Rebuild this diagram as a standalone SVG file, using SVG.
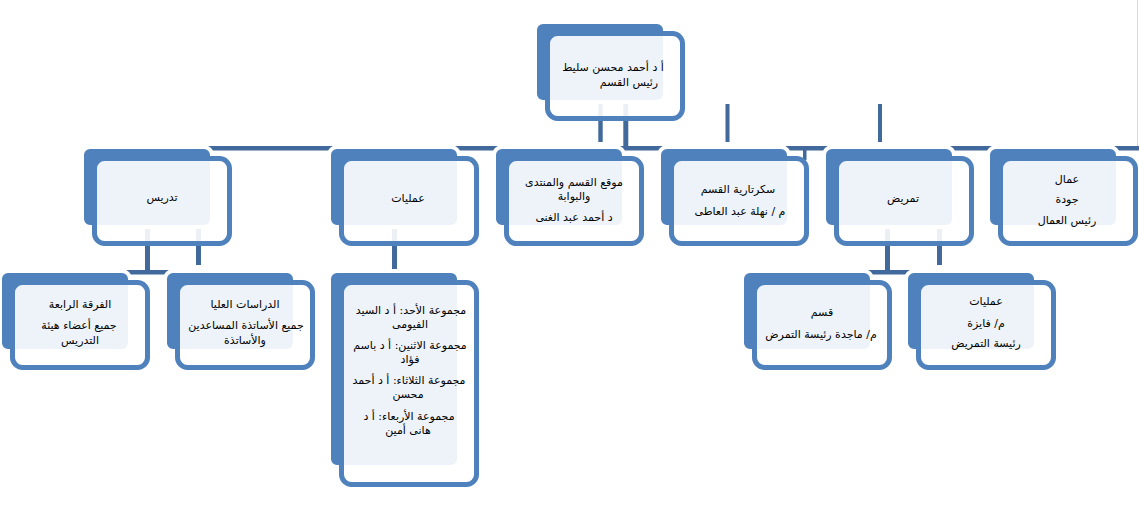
<svg xmlns="http://www.w3.org/2000/svg" width="1139" height="507" viewBox="0 0 1139 507">
<style>
.bk{fill:#4F81BD;stroke:#FFFFFF;stroke-width:4}
.fr{fill:#FFFFFF;fill-opacity:0.9;stroke:#4F81BD;stroke-width:5}
.cn{fill:#41699C}
.t{font-family:"DejaVu Sans","Noto Sans",sans-serif;font-size:11px;fill:#000000;text-anchor:middle;direction:rtl}
</style>
<rect width="1139" height="507" fill="#FFFFFF"/>
<line x1="1137.5" y1="0" x2="1137.5" y2="146" stroke="#D8D8D8" stroke-width="1"/>
<g id="connectors">
<rect class="cn" x="200" y="146" width="939" height="4.5"/>
<rect class="cn" x="598.3" y="95" width="4.4" height="47"/>
<rect class="cn" x="623.3" y="95" width="5" height="55"/>
<rect class="cn" x="725.5" y="104" width="4" height="38"/>
<rect class="cn" x="878" y="104" width="4" height="38"/>
<rect class="cn" x="803" y="148" width="3.5" height="12"/>
<rect class="cn" x="145" y="228" width="5" height="44"/>
<rect class="cn" x="196" y="228" width="5" height="37"/>
<rect class="cn" x="60" y="270" width="170" height="4.5"/>
<rect class="cn" x="392" y="228" width="5" height="43"/>
<rect class="cn" x="885" y="228" width="5" height="44"/>
<rect class="cn" x="937" y="228" width="5" height="37"/>
<rect class="cn" x="800" y="270" width="150" height="4.5"/>
</g>
<g id="node-head">
<rect class="bk" x="535" y="22" width="130" height="80" rx="8"/>
<rect class="fr" x="547.5" y="33.5" width="135" height="85" rx="10"/>
<text class="t" x="613" y="71">أ د أحمد محسن سليط</text>
<text class="t" x="629" y="86">رئيس القسم</text>
</g>
<g id="node-tadris">
<rect class="bk" x="82" y="147" width="130" height="80" rx="8"/>
<rect class="fr" x="94.5" y="158.5" width="135" height="85" rx="10"/>
<text class="t" x="162" y="201">تدريس</text>
</g>
<g id="node-amaliyat">
<rect class="bk" x="329" y="147" width="130" height="80" rx="8"/>
<rect class="fr" x="341.5" y="158.5" width="135" height="85" rx="10"/>
<text class="t" x="408" y="202">عمليات</text>
</g>
<g id="node-mawqi">
<rect class="bk" x="494" y="147" width="130" height="80" rx="8"/>
<rect class="fr" x="506.5" y="158.5" width="135" height="85" rx="10"/>
<text class="t" x="574" y="186">موقع القسم والمنتدى</text>
<text class="t" x="574" y="200">والبوابة</text>
<text class="t" x="574" y="221">د أحمد عبد الغنى</text>
</g>
<g id="node-sekretaria">
<rect class="bk" x="659" y="147" width="130" height="80" rx="8"/>
<rect class="fr" x="671.5" y="158.5" width="135" height="85" rx="10"/>
<text class="t" x="738" y="193">سكرتارية القسم</text>
<text class="t" x="740" y="215">م / نهلة عبد العاطى</text>
</g>
<g id="node-tamrid">
<rect class="bk" x="824" y="147" width="130" height="80" rx="8"/>
<rect class="fr" x="836.5" y="158.5" width="135" height="85" rx="10"/>
<text class="t" x="903" y="202">تمريض</text>
</g>
<g id="node-ummal">
<rect class="bk" x="988" y="147" width="130" height="80" rx="8"/>
<rect class="fr" x="1000.5" y="158.5" width="135" height="85" rx="10"/>
<text class="t" x="1067" y="183">عمال</text>
<text class="t" x="1067" y="203">جودة</text>
<text class="t" x="1067" y="224">رئيس العمال</text>
</g>
<g id="node-firqa">
<rect class="bk" x="0" y="271" width="130" height="80" rx="8"/>
<rect class="fr" x="12.5" y="282.5" width="135" height="85" rx="10"/>
<text class="t" x="80" y="308">الفرقة الرابعة</text>
<text class="t" x="79" y="329">جميع أعضاء هيئة</text>
<text class="t" x="80" y="344">التدريس</text>
</g>
<g id="node-dirasat">
<rect class="bk" x="165" y="271" width="130" height="80" rx="8"/>
<rect class="fr" x="177.5" y="282.5" width="135" height="85" rx="10"/>
<text class="t" x="245" y="308">الدراسات العليا</text>
<text class="t" x="246" y="329">جميع الأساتذة المساعدين</text>
<text class="t" x="245" y="344">والأساتذة</text>
</g>
<g id="node-majmuat">
<rect class="bk" x="329" y="271" width="130" height="196" rx="8"/>
<rect class="fr" x="341.5" y="282.5" width="135" height="202" rx="10"/>
<text class="t" x="411" y="314">مجموعة الأحد: أ د السيد</text>
<text class="t" x="410" y="328">الفيومى</text>
<text class="t" x="410" y="349">مجموعة الاثنين: أ د باسم</text>
<text class="t" x="410" y="363">فؤاد</text>
<text class="t" x="409" y="384">مجموعة الثلاثاء: أ د أحمد</text>
<text class="t" x="408" y="398">محسن</text>
<text class="t" x="409" y="420">مجموعة الأربعاء: أ د</text>
<text class="t" x="408" y="434">هانى أمين</text>
</g>
<g id="node-qism">
<rect class="bk" x="742" y="271" width="130" height="80" rx="8"/>
<rect class="fr" x="754.5" y="282.5" width="135" height="85" rx="10"/>
<text class="t" x="822" y="316">قسم</text>
<text class="t" x="821" y="338">م/ ماجدة رئيسة  التمرض</text>
</g>
<g id="node-amaliyat2">
<rect class="bk" x="906" y="271" width="130" height="80" rx="8"/>
<rect class="fr" x="918.5" y="282.5" width="135" height="85" rx="10"/>
<text class="t" x="986" y="305">عمليات</text>
<text class="t" x="986" y="327">م/ فايزة</text>
<text class="t" x="986" y="347">رئيسة التمريض</text>
</g>
</svg>
